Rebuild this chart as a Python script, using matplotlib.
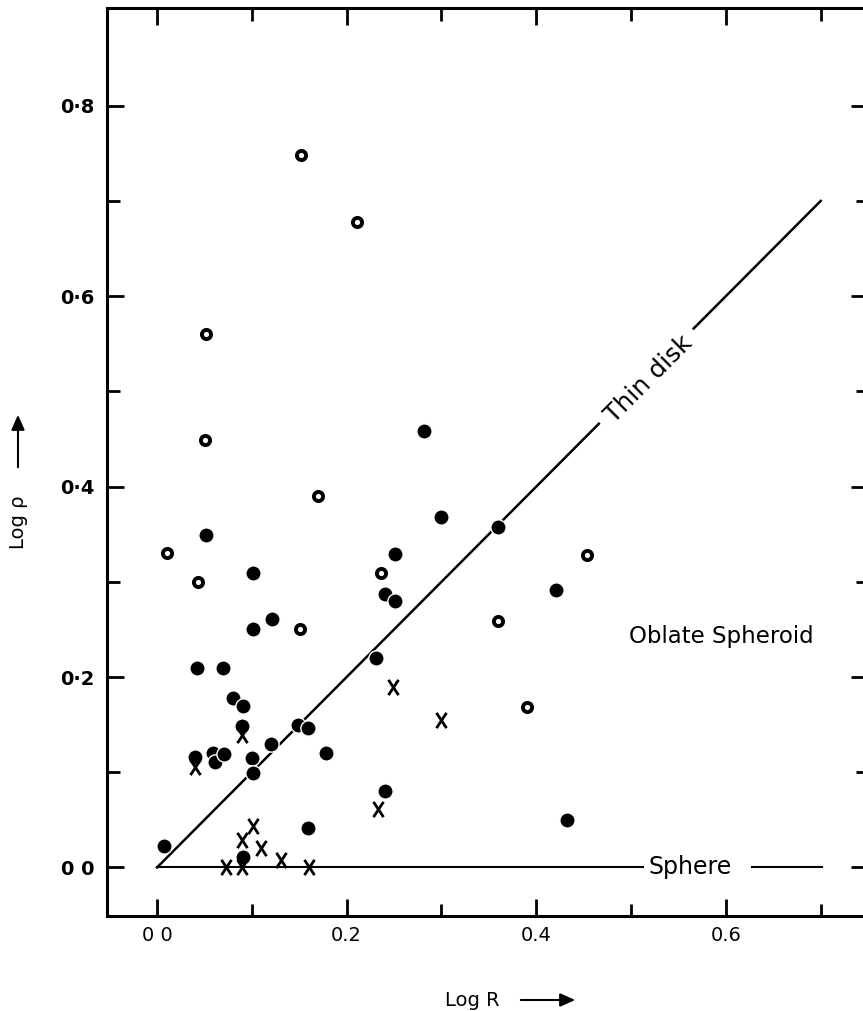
import matplotlib
matplotlib.use("Agg")
import matplotlib.pyplot as plt
from matplotlib.path import Path

# ---- data (log R, log rho) ----
open_x = [0.152, 0.211, 0.052, 0.051, 0.170, 0.010, 0.043, 0.236, 0.151, 0.453, 0.360, 0.390]
open_y = [0.748, 0.678, 0.560, 0.449, 0.390, 0.330, 0.300, 0.309, 0.250, 0.328, 0.259, 0.169]

filled_x = [0.007, 0.052, 0.101, 0.282, 0.300, 0.251, 0.2405, 0.251, 0.360, 0.4205, 0.432,
            0.1016, 0.1217, 0.0425, 0.0693, 0.231, 0.0805, 0.091, 0.0893, 0.149, 0.159,
            0.040, 0.0594, 0.0612, 0.0707, 0.1005, 0.1016, 0.120, 0.178, 0.2405, 0.159, 0.091]
filled_y = [0.023, 0.349, 0.309, 0.458, 0.368, 0.329, 0.287, 0.280, 0.358, 0.291, 0.050,
            0.250, 0.2605, 0.2097, 0.209, 0.2195, 0.1775, 0.1694, 0.1487, 0.1495, 0.1467,
            0.1155, 0.1197, 0.111, 0.119, 0.1145, 0.0994, 0.130, 0.1204, 0.080, 0.041, 0.0105]

cross_x = [0.249, 0.300, 0.090, 0.040, 0.2335, 0.101, 0.090, 0.110, 0.131, 0.090, 0.0725, 0.160]
cross_y = [0.190, 0.155, 0.139, 0.106, 0.061, 0.043, 0.029, 0.020, 0.008, 0.000, 0.000, 0.000]

# reference lines
disk_lo_x = [0.0, 0.466]
disk_hi_x = [0.566, 0.700]
sphere_a_x = [0.0, 0.513]
sphere_b_x = [0.628, 0.701]

xticks = [0.0, 0.1, 0.2, 0.3, 0.4, 0.5, 0.6, 0.7]
xmajor = [0.0, 0.2, 0.4, 0.6]
xmajor_labels = ["0 0", "0.2", "0.4", "0.6"]
yticks = [0.0, 0.1, 0.2, 0.3, 0.4, 0.5, 0.6, 0.7, 0.8]
ymajor = [0.0, 0.2, 0.4, 0.6, 0.8]
ymajor_labels = ["0 0", "0·2", "0·4", "0·6", "0·8"]

W, H = 863, 1011
fig = plt.figure(figsize=(W / 100, H / 100), dpi=100)
ax = fig.add_axes([107.3 / W, (H - 916) / H, (868.1 - 107.3) / W, (916 - 8.3) / H])
ax.set_xlim(-0.0525, 0.75)
ax.set_ylim(-0.051, 0.9023)

for s in ax.spines.values():
    s.set_linewidth(2.2)

ax.set_xticks(xmajor)
ax.set_xticklabels(xmajor_labels, fontsize=14)
ax.set_xticks([t for t in xticks if t not in xmajor], minor=True)
ax.set_yticks(ymajor)
ax.set_yticklabels(ymajor_labels, fontsize=14, fontweight="bold")
ax.set_yticks([t for t in yticks if t not in ymajor], minor=True)
ax.tick_params(which="both", direction="in", top=True, right=True, width=2.0)
ax.tick_params(which="major", length=12)
ax.tick_params(which="minor", length=9)
ax.tick_params(axis="y", which="major", pad=9)
ax.tick_params(axis="x", which="major", pad=7)

# lines
ax.plot(disk_lo_x, disk_lo_x, color="black", lw=1.8, zorder=2)
ax.plot(disk_hi_x, disk_hi_x, color="black", lw=1.8, zorder=2)
ax.plot(sphere_a_x, [0, 0], color="black", lw=1.5, zorder=2)
ax.plot(sphere_b_x, [0, 0], color="black", lw=1.5, zorder=2)

ax.text(0.5185, 0.5125, "Thin disk", rotation=45, ha="center", va="center",
        fontsize=18, rotation_mode="anchor")
ax.text(0.5625, 0.0, "Sphere", ha="center", va="center", fontsize=17)
ax.text(0.5955, 0.243, "Oblate Spheroid", ha="center", va="center", fontsize=16.5)

# markers
ax.plot(filled_x, filled_y, "o", ms=11, mfc="black", mec="white", mew=1.0, zorder=4)
ax.plot(open_x, open_y, "o", ms=6.6, mfc="white", mec="black", mew=2.8, zorder=4)
xpath = Path([(-0.33, -0.5), (0.33, 0.5), (-0.33, 0.5), (0.33, -0.5)],
             [Path.MOVETO, Path.LINETO, Path.MOVETO, Path.LINETO])
ax.plot(cross_x, cross_y, ls="none", marker=xpath, ms=11, mec="black", mew=2.0, zorder=5)

# axis labels with arrows
fig.text(472 / W, 1 - 1000 / H, "Log R", ha="center", va="center", fontsize=14)
fig.patches.append(matplotlib.patches.FancyArrowPatch(
    (518 / W, 1 - 1000 / H), (578 / W, 1 - 1000 / H), transform=fig.transFigure,
    arrowstyle="-|>,head_length=9,head_width=4", color="black", lw=1.5))
fig.text(18 / W, 1 - 522 / H, "Log ρ", ha="center", va="center", fontsize=14, rotation=90)
fig.patches.append(matplotlib.patches.FancyArrowPatch(
    (18 / W, 1 - 470 / H), (18 / W, 1 - 412 / H), transform=fig.transFigure,
    arrowstyle="-|>,head_length=9,head_width=4", color="black", lw=1.5))

fig.savefig("out.png", dpi=100)
